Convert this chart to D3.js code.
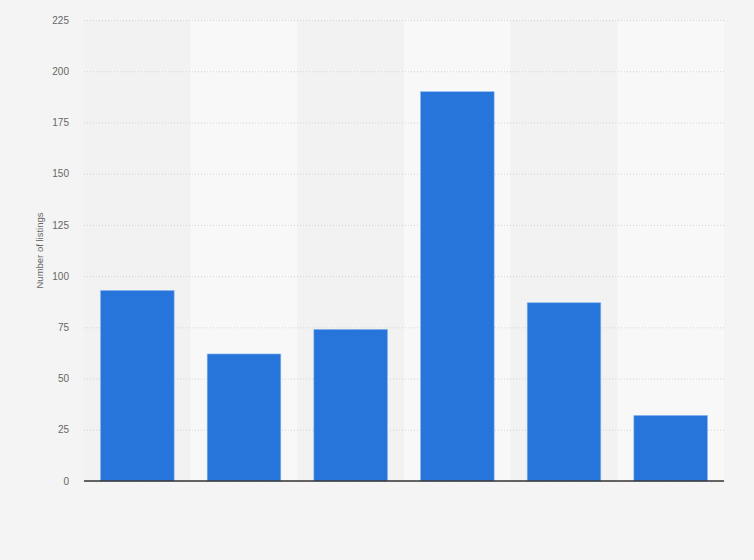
<!DOCTYPE html>
<html>
<head>
<meta charset="utf-8">
<script src="https://cdn.jsdelivr.net/npm/d3@7"></script>
<style>
  html, body { margin: 0; padding: 0; background: #f4f4f4; }
  #chart { width: 754px; height: 560px; }
  text { font-family: "Liberation Sans", Arial, sans-serif; }
</style>
</head>
<body>
<div id="chart"></div>
<script>
// データ（x軸ラベルは表示されていないので仮の名前）
const categories = ["c1", "c2", "c3", "c4", "c5", "c6"];
const listings = [93, 62, 74, 190, 87, 32];
const yTicks = [0, 25, 50, 75, 100, 125, 150, 175, 200, 225];

const width = 754;
const height = 560;
const margin = { top: 20, right: 30, bottom: 79, left: 84 };
const innerW = width - margin.left - margin.right;
const innerH = height - margin.top - margin.bottom;

const svg = d3.select("#chart").append("svg")
    .attr("width", width)
    .attr("height", height);

const g = svg.append("g")
    .attr("transform", `translate(${margin.left},${margin.top})`);

const pad = 0.31;
const x = d3.scaleBand()
    .domain(categories)
    .range([0, innerW])
    .paddingInner(pad)
    .paddingOuter(pad / 2);

const y = d3.scaleLinear()
    .domain([0, 225])
    .range([innerH, 0]);

// 縞模様の背景
g.selectAll("rect.band")
    .data(categories)
    .enter().append("rect")
    .attr("class", "band")
    .attr("x", d => x(d) - x.step() * pad / 2)
    .attr("y", 0)
    .attr("width", x.step())
    .attr("height", innerH)
    .attr("fill", (d, i) => i % 2 === 0 ? "#f2f2f2" : "#f8f8f8");

// 目盛り線
const yAxis = d3.axisLeft(y)
    .tickValues(yTicks)
    .tickSize(-innerW)
    .tickPadding(15);

g.append("g")
    .call(yAxis)
    .call(s => s.select(".domain").remove())
    .call(s => s.selectAll(".tick line")
        .attr("stroke", "#d2d2d2")
        .attr("stroke-dasharray", "1,2"))
    .call(s => s.selectAll(".tick text")
        .attr("fill", "#666")
        .attr("font-size", "10px"));

// 棒
g.selectAll("rect.bar")
    .data(listings)
    .enter().append("rect")
    .attr("class", "bar")
    .attr("x", (d, i) => x(categories[i]))
    .attr("y", d => y(d))
    .attr("width", x.bandwidth())
    .attr("height", d => innerH - y(d))
    .attr("fill", "#2775db")
    .attr("stroke", "#8bb6ee")
    .attr("stroke-width", 0.6);

// x軸の線
g.append("line")
    .attr("x1", 0)
    .attr("x2", innerW)
    .attr("y1", innerH)
    .attr("y2", innerH)
    .attr("stroke", "#333")
    .attr("stroke-width", 1.3);

// y軸ラベル
svg.append("text")
    .attr("transform", `translate(43,${margin.top + innerH / 2}) rotate(-90)`)
    .attr("text-anchor", "middle")
    .attr("fill", "#666")
    .attr("font-size", "9.5px")
    .text("Number of listings");
</script>
</body>
</html>
